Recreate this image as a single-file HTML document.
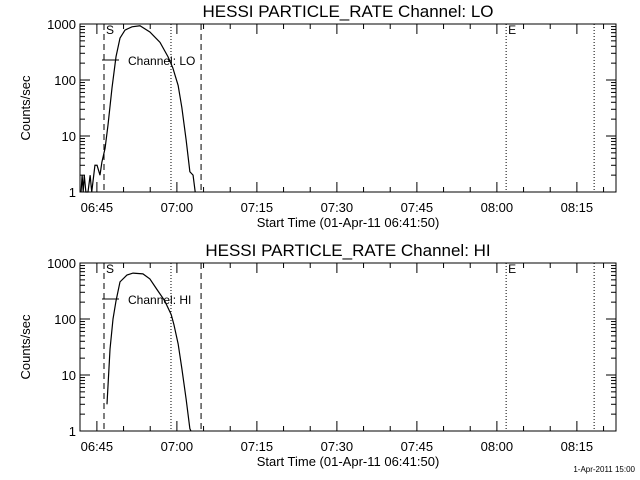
<!DOCTYPE html>
<html><head><meta charset="utf-8"><style>
body{margin:0;background:#fff;}
svg{display:block;font-family:"Liberation Sans",sans-serif;}
</style></head><body>
<svg id="c" width="640" height="480"></svg>
<script>
const NS="http://www.w3.org/2000/svg";
const xTickLabels=["06:45","07:00","07:15","07:30","07:45","08:00","08:15"];
const xTickMinutes=[3.1667,18.1667,33.1667,48.1667,63.1667,78.1667,93.1667];
const yTickValues=[1,10,100,1000];
const yTickLabels=["1","10","100","1000"];
const loTimes=[0.2,0.4,0.6,0.8,1.1,1.5,1.9,2.2,2.8,3.2,3.75,4.1,4.7,5.25,6.0,6.75,7.5,8.44,9.75,11.25,13.1,15.0,16.5,17.4,18.4,19.1,19.9,20.6,21.2,21.6];
const loValues=[1,2,1,2,1,1,2,1,3,3,2,3.4,6,15.7,72,260,560,780,890,930,720,470,260,165,80,32,8.5,2.3,2,1];
const hiTimes=[5.06,5.63,6.19,6.75,7.5,8.8,9.94,11.8,13.1,14.4,15.9,17.1,17.6,18.4,19.1,19.9,20.6,20.8];
const hiValues=[3,29,100,210,460,610,660,640,520,340,210,120,80,36,13,3.7,1.1,1];
const dashedLines=[4.5,22.7];
const dottedLines=[17.06,79.9,96.4];
const svg=document.getElementById('c');
const X0=80,X1=616,PX=5.3333;
function xs(m){return X0+m*PX;}
function el(t,a,p){const e=document.createElementNS(NS,t);for(const k in a)e.setAttribute(k,a[k]);(p||svg).appendChild(e);return e;}
function panel(top,name,times,vals,chan){
  const bot=top+168;
  const ys=v=>bot-Math.log10(v)*56;
  const g=el('g',{});
  
  
  const t=el('text',{x:348,y:top-7,'font-size':17,'text-anchor':'middle'},g);t.textContent="HESSI PARTICLE_RATE Channel: "+chan;
  
  const fr=el('rect',{x:X0,y:top,width:X1-X0,height:168,fill:'none',stroke:'#000','stroke-width':1},g);
  
  for(let d=0;d<3;d++)for(let k=1;k<10;k++){const v=Math.pow(10,d)*k;const y=ys(v);const L=k==1?10:5;
    el('line',{x1:X0,x2:X0+L,y1:y,y2:y,stroke:'#000'},g);el('line',{x1:X1-L,x2:X1,y1:y,y2:y,stroke:'#000'},g);}
  yTickValues.forEach((v,i)=>{const tt=el('text',{x:X0-4,y:ys(v)+5,'font-size':13,'text-anchor':'end'},g);tt.textContent=yTickLabels[i];
    });
  const yl=el('text',{x:0,y:0,'font-size':13,'text-anchor':'middle',transform:`translate(30,${top+84}) rotate(-90)`},g);yl.textContent="Counts/sec";
  
  for(let m=xTickMinutes[0]-5;m<100.5;m+=5){if(m<0)continue;const x=xs(m);const L=((Math.round((m-3.1667)/5))%3==0)?10:5;
    el('line',{x1:x,x2:x,y1:bot,y2:bot-L,stroke:'#000'},g);el('line',{x1:x,x2:x,y1:top,y2:top+L,stroke:'#000'},g);}
  xTickLabels.forEach((s,i)=>{const tt=el('text',{x:xs(xTickMinutes[i]),y:bot+20,'font-size':13,'text-anchor':'middle'},g);tt.textContent=s;
    });
  const xl=el('text',{x:348,y:bot+35,'font-size':13,'text-anchor':'middle'},g);xl.textContent="Start Time (01-Apr-11 06:41:50)";
  
  dashedLines.forEach(m=>{const l=el('line',{x1:xs(m),x2:xs(m),y1:top,y2:bot,stroke:'#000','stroke-dasharray':'6,4'},g);
    });
  dottedLines.forEach(m=>{const l=el('line',{x1:xs(m),x2:xs(m),y1:top,y2:bot,stroke:'#000','stroke-dasharray':'1,2'},g);
    });
  const s=el('text',{x:xs(dashedLines[0])+2,y:top+10,'font-size':12},g);s.textContent="S";
  
  const e=el('text',{x:xs(dottedLines[1])+2,y:top+10,'font-size':12},g);e.textContent="E";
  
  const p=el('polyline',{points:times.map((m,i)=>xs(m)+','+ys(vals[i])).join(' '),fill:'none',stroke:'#000','stroke-width':1.2},g);
  
  const ll=el('line',{x1:102,x2:119,y1:top+36,y2:top+36,stroke:'#000'},g);
  
  const lt=el('text',{x:128,y:top+41,'font-size':12},g);lt.textContent="Channel: "+chan;
  
}
panel(24,'lo',loTimes,loValues,'LO');
panel(263,'hi',hiTimes,hiValues,'HI');
const ts=el('text',{x:635,y:472,'font-size':8,'text-anchor':'end'});ts.textContent="1-Apr-2011 15:00";

</script>
</body></html>
